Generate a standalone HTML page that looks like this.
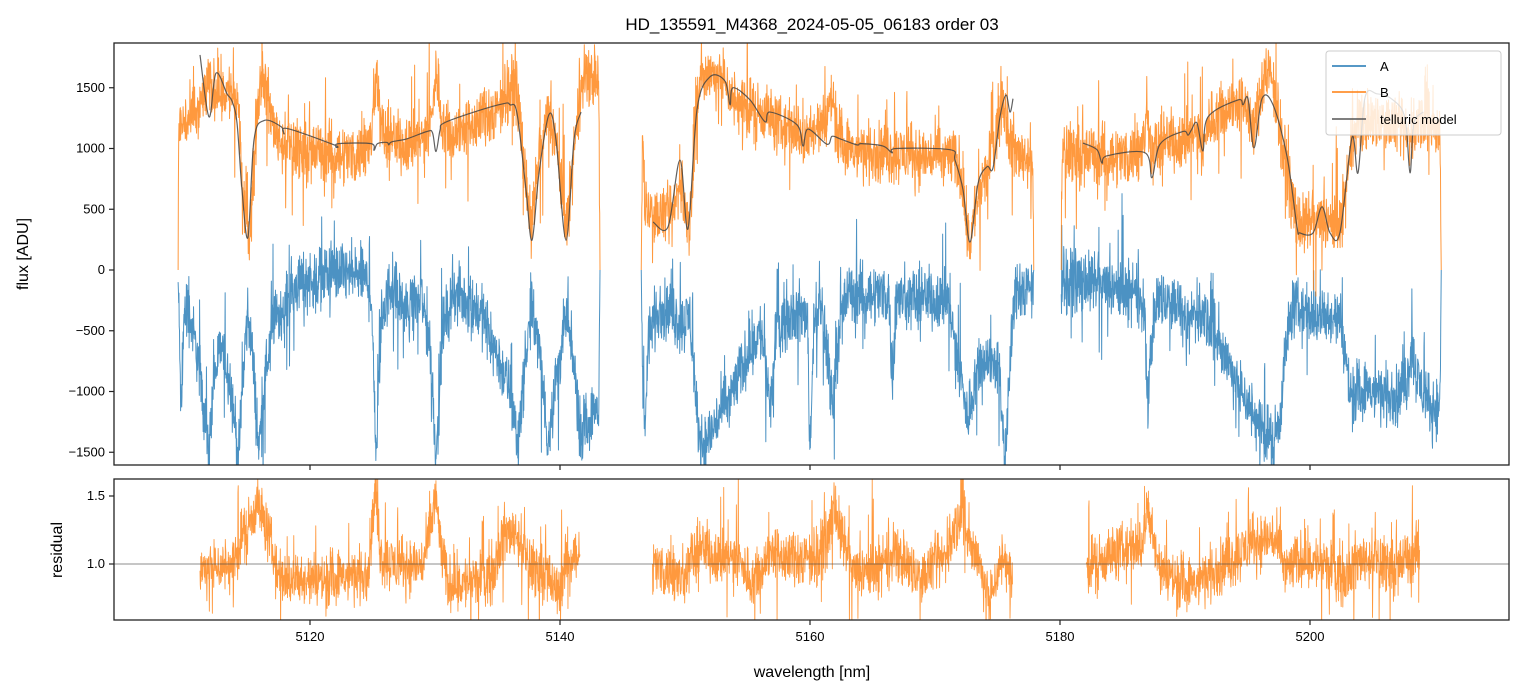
<!DOCTYPE html>
<html><head><meta charset="utf-8"><style>
html,body{margin:0;padding:0;background:#fff;}
svg{display:block;font-family:"Liberation Sans",sans-serif;}
</style></head><body>
<svg id="chart" width="1523" height="696" viewBox="0 0 1523 696">
<defs>
<clipPath id="clipTop"><rect x="114" y="43" width="1395" height="422"/></clipPath>
<clipPath id="clipBot"><rect x="114" y="479" width="1395" height="141"/></clipPath>
</defs>
<text x="812" y="30" font-size="17" text-anchor="middle" fill="#000">HD_135591_M4368_2024-05-05_06183  order 03</text>
<g id="gTop" clip-path="url(#clipTop)"></g>
<g id="gBot" clip-path="url(#clipBot)"></g>
<rect x="114" y="43" width="1395" height="422" fill="none" stroke="#222" stroke-width="1.3"/>
<rect x="114" y="479" width="1395" height="141" fill="none" stroke="#222" stroke-width="1.3"/>
<g id="gAxes"></g>
<text transform="translate(28,254) rotate(-90)" font-size="16" text-anchor="middle">flux [ADU]</text>
<text transform="translate(62,550) rotate(-90)" font-size="16" text-anchor="middle">residual</text>
<text x="812" y="677" font-size="16" text-anchor="middle">wavelength [nm]</text>
<g>
<rect x="1326" y="51" width="175" height="84" rx="3" fill="#fff" fill-opacity="0.8" stroke="#ccc"/>
<line x1="1332" y1="66" x2="1366" y2="66" stroke="#1f77b4" stroke-width="1.5"/>
<text x="1380" y="71" font-size="13">A</text>
<line x1="1332" y1="92" x2="1366" y2="92" stroke="#ff7f0e" stroke-width="1.5"/>
<text x="1380" y="97" font-size="13">B</text>
<line x1="1332" y1="119" x2="1366" y2="119" stroke="#555" stroke-width="1.5"/>
<text x="1380" y="124" font-size="13">telluric model</text>
</g>
</svg>
<script>
// ---- data (wavelength nm, value) ----
const bSpec = [
[[5109.45,0],[5109.5,1200],[5110.5,1230],[5111.2,1350],[5111.8,1500],[5112.8,1480],[5113.8,1450],[5114.3,1300],[5114.7,500],[5115.0,270],[5115.3,450],[5115.8,1400],[5116.2,1650],[5116.7,1350],[5117.2,1150],[5118,1020],[5120,980],[5122,960],[5124,950],[5124.9,1050],[5125.3,1700],[5125.7,1150],[5127,1050],[5129,1080],[5129.7,1200],[5130.1,1650],[5130.6,1200],[5131.5,1120],[5133,1200],[5135,1300],[5136,1550],[5136.6,1450],[5137.2,800],[5137.7,320],[5138.2,800],[5139,1280],[5139.7,1050],[5140.5,330],[5141.1,900],[5141.7,1500],[5142.5,1580],[5143.1,1550],[5143.2,0]],
[[5146.5,0],[5146.6,1100],[5146.8,550],[5147.5,450],[5149,420],[5149.6,740],[5150.0,500],[5150.3,300],[5150.7,900],[5151.2,1600],[5153,1620],[5153.8,1400],[5155,1350],[5156.5,1300],[5157.5,1180],[5159.2,1150],[5159.5,1000],[5160,1150],[5161.2,1200],[5161.8,1450],[5162.3,1100],[5163.2,980],[5165,960],[5167,960],[5169,930],[5171.2,940],[5172,850],[5172.5,400],[5172.8,230],[5173.2,500],[5174.2,820],[5175,1200],[5175.4,1480],[5175.9,1100],[5176.5,950],[5177.8,930],[5177.9,0]],
[[5180.1,0],[5180.2,990],[5182,950],[5184,940],[5186.4,950],[5186.8,1100],[5187,1380],[5187.3,950],[5188,1050],[5190.4,1100],[5191.2,1150],[5191.4,900],[5191.8,1200],[5193,1330],[5194.9,1380],[5195.5,1100],[5196,1400],[5196.5,1680],[5197.1,1500],[5197.8,1070],[5198.5,600],[5199.2,360],[5201,400],[5202.4,360],[5203,700],[5203.4,1100],[5204.2,1200],[5206,1230],[5208,1100],[5209,1250],[5210.4,1150],[5210.5,0]]
];
const aSpec = [
[[5109.45,-100],[5109.5,-300],[5109.7,-1250],[5109.9,-400],[5110.2,-300],[5111,-700],[5111.5,-1100],[5111.9,-1550],[5112.3,-900],[5112.9,-630],[5113.6,-900],[5114.3,-1550],[5114.7,-800],[5115,-300],[5115.4,-700],[5115.9,-1480],[5116.5,-800],[5117.1,-430],[5119,-110],[5121.7,-20],[5124.3,-50],[5124.9,-200],[5125.3,-1500],[5125.7,-400],[5126.5,-110],[5127.8,-350],[5128.9,-220],[5129.6,-600],[5130.1,-1540],[5130.6,-500],[5131.5,-190],[5133.7,-350],[5135,-710],[5136,-1000],[5136.6,-1400],[5137.2,-800],[5137.7,-300],[5138.4,-700],[5139,-1400],[5139.7,-900],[5140.5,-380],[5141.1,-800],[5141.7,-1330],[5142.7,-1190],[5143.1,-1150],[5143.2,0]],
[[5146.5,0],[5146.6,-850],[5146.8,-1350],[5147.1,-500],[5148,-330],[5149,-350],[5149.7,-450],[5150.4,-380],[5151,-1300],[5151.5,-1450],[5152,-1350],[5153,-1150],[5153.8,-1000],[5155,-700],[5156,-500],[5156.4,-700],[5156.8,-1190],[5157.3,-500],[5158.2,-350],[5159.8,-380],[5160,-1540],[5160.3,-400],[5161,-330],[5161.8,-1100],[5162.4,-400],[5163,-200],[5166.3,-190],[5166.6,-1000],[5166.9,-250],[5167.8,-220],[5171,-230],[5172,-850],[5172.6,-1230],[5173.2,-900],[5173.8,-710],[5175.1,-800],[5175.6,-1540],[5176.1,-600],[5176.5,-170],[5177.8,-160],[5177.9,0]],
[[5180.1,-200],[5180.2,-50],[5182,-100],[5184,-150],[5186.4,-230],[5186.8,-500],[5187,-1140],[5187.3,-600],[5187.8,-230],[5189.5,-280],[5190.1,-580],[5190.6,-350],[5191.8,-400],[5193.9,-850],[5195.5,-1200],[5197,-1400],[5197.6,-1200],[5198.1,-600],[5198.6,-300],[5200,-370],[5202.4,-400],[5202.8,-700],[5203.2,-1000],[5205,-1000],[5207,-1050],[5207.8,-900],[5208.1,-630],[5208.6,-900],[5209.6,-1150],[5210.4,-1100],[5210.5,0]]
];
const tellModel = [
[[5111.2,1770],[5111.92,1260],[5112.48,1620],[5113.36,1450],[5113.76,1390],[5114.16,1210],[5114.56,660],[5115.04,270],[5115.52,1070],[5116.32,1230],[5117.68,1180],[5117.92,1120],[5118.16,1165],[5121.92,1030],[5122.08,1010],[5122.3,1040],[5124.88,1040],[5125.12,985],[5125.4,1040],[5126.16,1050],[5126.3,1030],[5126.55,1055],[5127.76,1080],[5129.36,1140],[5129.8,1130],[5130.08,975],[5130.4,1150],[5130.72,1210],[5133.12,1300],[5135.52,1370],[5136.0,1360],[5136.56,1290],[5137.28,660],[5137.76,245],[5138.32,800],[5139.12,1280],[5139.68,1070],[5140.48,245],[5141.12,1070],[5141.68,1300]],
[[5147.44,395],[5148.64,355],[5149.6,905],[5150.24,340],[5150.96,1320],[5152,1590],[5153.2,1555],[5153.6,1360],[5153.84,1500],[5155.2,1400],[5156.4,1220],[5156.8,1300],[5158.96,1195],[5159.44,1020],[5159.84,1160],[5161.36,1035],[5161.76,1100],[5162.4,1080],[5163.76,1030],[5164.1,1040],[5165.84,1020],[5166.56,965],[5166.9,1000],[5171.2,990],[5171.6,905],[5172.24,660],[5172.8,230],[5173.44,710],[5174.16,850],[5174.64,840],[5175.2,1260],[5175.68,1440],[5176,1300],[5176.24,1410]],
[[5181.84,1045],[5182.96,990],[5183.36,880],[5183.76,940],[5186.8,965],[5187.36,760],[5188,1035],[5189.84,1140],[5190.24,1110],[5190.5,1150],[5190.96,1210],[5191.44,980],[5191.84,1260],[5194.24,1400],[5194.64,1360],[5195.04,1410],[5195.52,1005],[5196.16,1410],[5197.04,1360],[5198.16,935],[5198.96,355],[5199.2,305],[5200.24,305],[5200.96,520],[5201.6,305],[5202.4,310],[5203.36,1090],[5203.84,800],[5204.4,1420],[5205.36,1450],[5206.64,1400],[5207.6,1250],[5208,800],[5208.3,1200],[5209.04,1300]]
];
const resid = [
[[5111.2,0.95],[5112,1.0],[5113,0.98],[5113.9,1.0],[5114.5,1.2],[5115.3,1.35],[5115.8,1.45],[5116.4,1.3],[5117,1.1],[5117.5,0.9],[5120,0.88],[5122,0.9],[5124.6,0.92],[5125.2,1.5],[5125.7,1.05],[5127,0.98],[5129,1.0],[5129.6,1.2],[5130,1.55],[5130.5,1.1],[5131,0.86],[5133,0.86],[5134.6,0.95],[5135.4,1.2],[5136.5,1.25],[5137.2,1.05],[5138,0.96],[5139,0.95],[5139.6,0.78],[5140.2,0.9],[5140.7,1.07],[5141.6,1.07]],
[[5147.4,1.0],[5148.5,0.95],[5149.7,0.88],[5150.5,1.05],[5151.3,1.12],[5153,1.05],[5154,1.05],[5155.4,0.88],[5157,1.1],[5158.5,1.02],[5160.2,1.05],[5161.5,1.2],[5161.9,1.45],[5162.5,1.2],[5163.5,0.93],[5165.2,0.95],[5167,1.05],[5168.9,0.9],[5170.8,1.05],[5171.8,1.3],[5172.1,1.42],[5172.6,1.2],[5173.4,1.05],[5174.4,0.75],[5175.2,1.0],[5175.6,1.05],[5176.2,0.85]],
[[5182.1,1.0],[5183.5,1.05],[5185.6,1.12],[5186.6,1.15],[5187,1.4],[5187.5,1.2],[5188,0.95],[5190.5,0.84],[5193,0.98],[5195.4,1.15],[5197,1.2],[5198.2,0.96],[5199.4,1.05],[5202.7,0.93],[5204.3,1.05],[5206.8,0.98],[5208.8,1.1]]
];
const xTicks = [5120,5140,5160,5180,5200];
const yTicksTop = [1500,1000,500,0,-500,-1000,-1500];
const yTicksBot = [1.5,1.0];

// ---- scales ----
const xS = l => 310 + (l - 5120) * 12.5;
const yT = v => 270 - v * 0.1215;
const yR = v => 564 - (v - 1) * 136;
const NS = "http://www.w3.org/2000/svg";

// deterministic texture generator (measurement noise appearance)
let seed = 12345;
function rnd(){ seed = (seed * 1103515245 + 12345) & 0x7fffffff; return seed / 0x7fffffff; }
function noise(){ let n = rnd()+rnd()+rnd()-1.5; if (rnd() < 0.04) n += (rnd() < 0.65 ? 1 : -1) * (0.8 + rnd()*1.5); return n; }

function interp(seg, l){
  for (let i=1;i<seg.length;i++){ if (l <= seg[i][0]) { const a=seg[i-1], b=seg[i]; const t=(l-a[0])/(b[0]-a[0]||1); return a[1]+(b[1]-a[1])*t; } }
  return seg[seg.length-1][1];
}
function noisyPath(seg, ys, amp){
  const l0 = seg[0][0], l1 = seg[seg.length-1][0];
  let d = "M" + xS(l0).toFixed(2) + "," + ys(seg[0][1]).toFixed(2);
  for (let l = l0 + 0.022; l < l1 - 0.02; l += 0.022) {
    d += "L" + xS(l).toFixed(2) + "," + ys(interp(seg, l) + noise()*amp).toFixed(2);
  }
  d += "L" + xS(l1).toFixed(2) + "," + ys(seg[seg.length-1][1]).toFixed(2);
  return d;
}
function smoothPath(seg, ys){
  const p = seg.map(q => [xS(q[0]), ys(q[1])]);
  let d = "M" + p[0][0].toFixed(2) + "," + p[0][1].toFixed(2);
  for (let i=0;i<p.length-1;i++){
    const p0=p[Math.max(0,i-1)], p1=p[i], p2=p[i+1], p3=p[Math.min(p.length-1,i+2)];
    const c1=[p1[0]+(p2[0]-p0[0])/6, p1[1]+(p2[1]-p0[1])/6];
    const c2=[p2[0]-(p3[0]-p1[0])/6, p2[1]-(p3[1]-p1[1])/6];
    d += "C"+c1[0].toFixed(2)+","+c1[1].toFixed(2)+" "+c2[0].toFixed(2)+","+c2[1].toFixed(2)+" "+p2[0].toFixed(2)+","+p2[1].toFixed(2);
  }
  return d;
}
function addPath(g, d, stroke, w, op){
  const el = document.createElementNS(NS, "path");
  el.setAttribute("d", d); el.setAttribute("fill","none"); el.setAttribute("stroke",stroke);
  el.setAttribute("stroke-width", w); el.setAttribute("stroke-opacity", op); el.setAttribute("stroke-linejoin","round");
  g.appendChild(el); return el;
}
const gTop = document.getElementById("gTop"), gBot = document.getElementById("gBot"), gAx = document.getElementById("gAxes");

aSpec.forEach((seg,i) => {
  const el = addPath(gTop, noisyPath(seg, yT, 240), "#1f77b4", 1.0, 0.8);
  
  
});
bSpec.forEach((seg,i) => {
  const el = addPath(gTop, noisyPath(seg, yT, 240), "#ff7f0e", 1.0, 0.8);
  
  
});
tellModel.forEach((seg,i) => {
  const el = addPath(gTop, smoothPath(seg, yT), "#444", 1.2, 0.85);
  
  
});
resid.forEach((seg,i) => {
  const el = addPath(gBot, noisyPath(seg, yR, 0.2), "#ff7f0e", 0.9, 0.8);
  
  
});
const ref = addPath(gBot, "M114,"+yR(1)+"L1509,"+yR(1), "#444", 0.8, 0.8);



function line(x1,y1,x2,y2){ const l=document.createElementNS(NS,"line"); l.setAttribute("x1",x1);l.setAttribute("y1",y1);l.setAttribute("x2",x2);l.setAttribute("y2",y2);l.setAttribute("stroke","#222");l.setAttribute("stroke-width","1.2"); gAx.appendChild(l); return l; }
function text(x,y,s,anchor){ const t=document.createElementNS(NS,"text"); t.setAttribute("x",x);t.setAttribute("y",y);t.setAttribute("font-size","13");t.setAttribute("text-anchor",anchor);t.textContent=s; gAx.appendChild(t); return t; }
xTicks.forEach(v => {
  const x = xS(v);
  const t1 = line(x,465,x,470);
  
  
  const t2 = line(x,620,x,625);
  
  
  const lb = text(x,641,String(v),"middle");
  
  
});
yTicksTop.forEach(v => {
  const y = yT(v);
  const t = line(109,y,114,y);
  
  
  const lb = text(105,y+4,v<0?"\u2212"+Math.abs(v):String(v),"end");
  
  
});
yTicksBot.forEach(v => {
  const y = yR(v);
  const t = line(109,y,114,y);
  
  
  const lb = text(105,y+4,v.toFixed(1),"end");
  
  
});
</script>
</body></html>
